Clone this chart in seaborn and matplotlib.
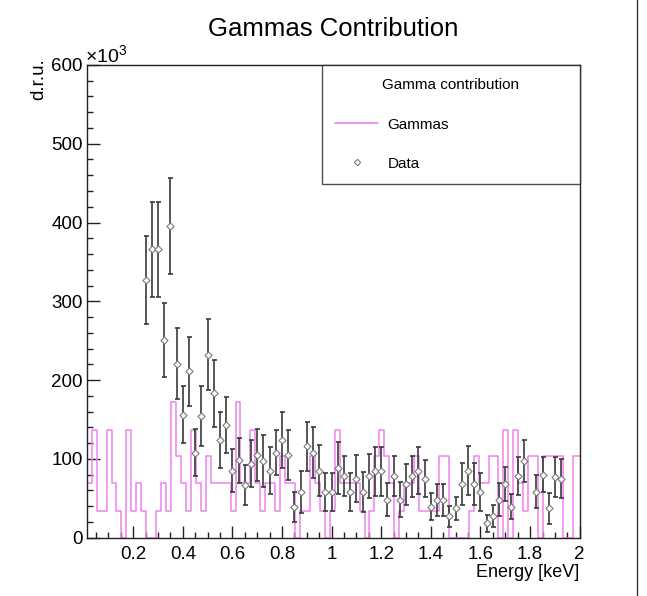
import numpy as np
import pandas as pd
import matplotlib
matplotlib.use("Agg")
import matplotlib.pyplot as plt
from matplotlib.lines import Line2D
from matplotlib.ticker import MultipleLocator, FixedLocator
import seaborn as sns

# ----------------------------------------------------------------------------
# Values (d.r.u., in units of 10^3)
# ----------------------------------------------------------------------------
# gamma template: 100 bins of 0.02 keV starting at 0.0125 keV
GAMMA_START = 0.0125
GAMMA_WIDTH = 0.02
gamma_values = [
    69, 137, 34, 34, 137, 69, 34, 0, 137, 34,
    69, 34, 0, 0, 34, 69, 34, 172, 103, 69,
    34, 137, 69, 34, 103, 69, 69, 69, 69, 34,
    172, 69, 69, 137, 69, 34, 69, 69, 34, 103,
    69, 69, 0, 34, 34, 103, 69, 34, 0, 34,
    137, 69, 69, 69, 69, 34, 0, 34, 103, 137,
    103, 69, 0, 34, 69, 69, 103, 34, 34, 34,
    34, 103, 103, 0, 0, 0, 0, 34, 103, 69,
    69, 103, 103, 0, 137, 0, 137, 69, 34, 103,
    103, 0, 103, 103, 103, 103, 0, 0, 103, 103,
]

# measured data points (bin centres in keV)
energy = [
    0.250, 0.275, 0.300, 0.325, 0.350, 0.375, 0.400, 0.425, 0.450, 0.475,
    0.500, 0.525, 0.550, 0.575, 0.600, 0.625, 0.650, 0.675, 0.700, 0.725,
    0.750, 0.775, 0.800, 0.825, 0.850, 0.875, 0.900, 0.925, 0.950, 0.975,
    1.000, 1.025, 1.050, 1.075, 1.100, 1.125, 1.150, 1.175, 1.200, 1.225,
    1.250, 1.275, 1.300, 1.325, 1.350, 1.375, 1.400, 1.425, 1.450, 1.475,
    1.500, 1.525, 1.550, 1.575, 1.600, 1.625, 1.650, 1.675, 1.700, 1.725,
    1.750, 1.775, 1.825, 1.850, 1.875, 1.900, 1.925,
]
counts = [
    327, 366, 366, 251, 395, 221, 156, 211, 108, 154,
    232, 183, 124, 143, 85, 98, 67, 94, 105, 97,
    85, 108, 124, 105, 39, 58, 116, 108, 85, 58,
    58, 88, 78, 58, 75, 58, 78, 84, 84, 48,
    78, 48, 68, 78, 85, 75, 39, 48, 48, 27,
    37, 68, 85, 68, 58, 18, 28, 48, 68, 39,
    78, 97, 58, 80, 37, 77, 75,
]
errors = [
    56, 60, 60, 47, 61, 45, 36, 44, 30, 38,
    45, 42, 36, 36, 27, 29, 25, 30, 33, 33,
    30, 29, 36, 32, 19, 27, 31, 32, 32, 24,
    24, 33, 25, 24, 30, 25, 28, 31, 31, 21,
    25, 22, 26, 26, 30, 24, 17, 20, 20, 13,
    15, 27, 31, 27, 24, 11, 14, 21, 22, 16,
    24, 27, 21, 22, 20, 25, 25,
]

GAMMA_COLOR = "#ee82ee"
DATA_COLOR = "#3a3a3a"

# ----------------------------------------------------------------------------
# Figure
# ----------------------------------------------------------------------------
sns.set_theme(style="ticks")
plt.rcParams["font.family"] = ["Liberation Sans", "DejaVu Sans"]
plt.rcParams["mathtext.fontset"] = "custom"
plt.rcParams["mathtext.rm"] = "Liberation Sans"
plt.rcParams["mathtext.it"] = "Liberation Sans"
plt.rcParams["text.color"] = "black"
plt.rcParams["axes.labelcolor"] = "black"
plt.rcParams["xtick.color"] = "black"
plt.rcParams["ytick.color"] = "black"

fig = plt.figure(figsize=(6.47, 5.96), dpi=100)
ax = fig.add_axes([0.134, 0.098, 0.762, 0.793])

n_bins = len(gamma_values)
gamma_df = pd.DataFrame({
    "energy": GAMMA_START + GAMMA_WIDTH * (np.arange(n_bins) + 0.5),
    "value": gamma_values,
})
sns.histplot(data=gamma_df, x="energy", weights="value",
             binwidth=GAMMA_WIDTH,
             binrange=(GAMMA_START, GAMMA_START + GAMMA_WIDTH * n_bins),
             element="step", fill=False, color=GAMMA_COLOR, linewidth=1.1,
             ax=ax)

data_df = pd.DataFrame({"energy": energy, "counts": counts, "err": errors})
ax.errorbar(data_df["energy"], data_df["counts"], yerr=data_df["err"],
            fmt="none", ecolor=DATA_COLOR, elinewidth=1.2, capsize=1.8,
            capthick=1.2, zorder=3)
sns.scatterplot(data=data_df, x="energy", y="counts", marker="D", s=13,
                facecolor="white", edgecolor="#7a7a7a", linewidth=0.8,
                zorder=4, ax=ax)

ax.set_xlim(GAMMA_START, 2.0)
ax.set_ylim(0, 600)

# ROOT-like axes: ticks inside, only on the left and bottom
ax.xaxis.set_major_locator(FixedLocator([0.2, 0.4, 0.6, 0.8, 1.0, 1.2, 1.4, 1.6, 1.8, 2.0]))
ax.xaxis.set_major_formatter(plt.FuncFormatter(lambda v, p: f"{v:g}"))
ax.xaxis.set_minor_locator(MultipleLocator(0.05))
ax.yaxis.set_major_locator(MultipleLocator(100))
ax.yaxis.set_minor_locator(MultipleLocator(20))
ax.tick_params(axis="both", which="major", direction="in", length=9,
               width=1.0, labelsize=13.5, color="#222222",
               labelcolor="black")
ax.tick_params(axis="both", which="minor", direction="in", length=4.5,
               width=1.0, color="#222222")
ax.tick_params(axis="x", pad=6)
ax.tick_params(axis="y", pad=3)
for side in ax.spines.values():
    side.set_linewidth(1.0)
    side.set_color("#222222")

ax.set_xlabel("Energy [keV]", fontsize=13, loc="right", labelpad=1)
ax.set_ylabel("d.r.u.", fontsize=13.5, loc="top")
ax.yaxis.set_label_coords(-0.08, 1.015)
ax.text(-0.004, 0.998, r"$\times10^{3}$", transform=ax.transAxes,
        fontsize=14, ha="left", va="bottom")

fig.suptitle("Gammas Contribution", x=0.515, y=0.972, fontsize=18.5)

handles = [
    Line2D([], [], color=GAMMA_COLOR, linewidth=1.2),
    Line2D([], [], linestyle="none", marker="D", markersize=3.2,
           markerfacecolor="white", markeredgecolor="#7a7a7a",
           markeredgewidth=0.8),
]
leg = ax.legend(handles, ["Gammas", "Data"], title="Gamma contribution",
                loc="upper left", bbox_to_anchor=(0.477, 0.0, 0.523, 1.0),
                mode="expand", fontsize=11, title_fontsize=11,
                frameon=True, fancybox=False, borderpad=0.88,
                labelspacing=1.65, handlelength=2.8, handletextpad=0.6,
                borderaxespad=0.0)
leg.get_frame().set_edgecolor("#222222")
leg.get_frame().set_linewidth(1.0)

# separator line at the right edge of the screenshot
fig.add_artist(Line2D([0.985, 0.985], [0.0, 1.0], color="#333333",
                      linewidth=1.0, transform=fig.transFigure))

fig.savefig("out.png", dpi=100)
